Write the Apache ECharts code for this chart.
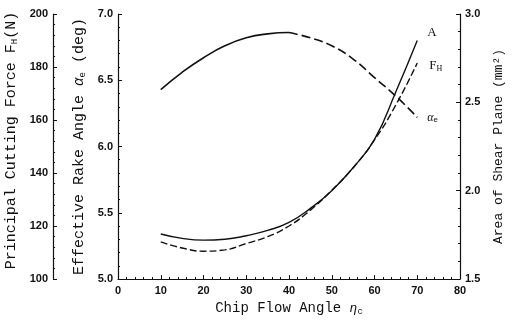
<!DOCTYPE html>
<html>
<head>
<meta charset="utf-8">
<script src="https://cdn.jsdelivr.net/npm/echarts@6/dist/echarts.min.js"></script>
<style>
  html, body { margin: 0; padding: 0; background: #fff; }
  #chart { width: 515px; height: 321px; }
</style>
</head>
<body>
<div id="chart"></div>
<script>
const chipFlowAngle = [10, 15, 20, 25, 30, 35, 40, 45, 50, 55, 60, 65, 70]
const rakeAngle = [6.43, 6.56, 6.67, 6.76, 6.82, 6.85, 6.86, 6.82, 6.76, 6.66, 6.52, 6.38, 6.22]
const shearArea = [1.755, 1.73, 1.72, 1.725, 1.745, 1.775, 1.82, 1.90, 2.00, 2.13, 2.29, 2.56, 2.85]
const cuttingForce = [114, 111.7, 110.5, 111, 113.4, 116, 120, 126, 133.5, 142, 152.5, 165.7, 181.5]
const xTicks = [0, 10, 20, 30, 40, 50, 60, 70, 80]

const pairs = (ys) => chipFlowAngle.map((x, i) => [x, ys[i]])
const rakePairs = pairs(rakeAngle)
// solid up to 40 deg, dashed afterwards
const rakeSolid = rakePairs.filter(p => p[0] <= 40)
const rakeDashed = rakePairs.filter(p => p[0] >= 40)

const ink = "#111"
const mono = "'Liberation Mono', 'DejaVu Sans Mono', monospace"
const tickFont = { color: ink, fontSize: 11, fontFamily: "'Liberation Sans', sans-serif", fontWeight: "bold" }
const sub = { fontSize: 9, verticalAlign: "bottom", padding: [6, 0, 0, 0], fontFamily: mono, color: ink }

const axisBase = {
  type: "value",
  axisLine: { show: true, lineStyle: { color: ink, width: 1.2 } },
  axisTick: { show: true, inside: true, length: 4, lineStyle: { color: ink } },
  minorTick: { show: true, splitNumber: 5, length: 2, lineStyle: { color: ink } },
  splitLine: { show: false },
  axisLabel: tickFont,
  nameLocation: "middle",
  nameRotate: 90
}

const chart = echarts.init(document.getElementById("chart"), null, { renderer: "canvas" })
const option = {
  animation: false,
  backgroundColor: "#fff",
  grid: { left: 118, right: 55, top: 14, bottom: 42, outerBoundsMode: "none", containLabel: false },
  xAxis: {
    ...axisBase,
    min: 0,
    max: 80,
    interval: 10,
    nameRotate: 0,
    name: "Chip Flow Angle {s|η}{b|c}",
    nameGap: 22,
    nameTextStyle: { fontFamily: mono, fontSize: 14, color: ink, rich: { s: { fontSize: 13, fontStyle: "italic", color: ink }, b: sub } },
    axisLabel: { ...tickFont, margin: 6, formatter: v => xTicks.includes(v) ? String(v) : "" }
  },
  yAxis: [
    {
      ...axisBase,
      position: "left",
      min: 5.0,
      max: 7.0,
      interval: 0.5,
      name: "Effective Rake Angle {s|α}{b|e} (deg)",
      nameGap: 23,
      nameTextStyle: { fontFamily: mono, fontSize: 15, color: ink, rich: { s: { fontSize: 14, fontStyle: "italic", color: ink }, b: sub } },
      axisLabel: { ...tickFont, margin: 5, formatter: v => v.toFixed(1) }
    },
    {
      ...axisBase,
      position: "left",
      offset: 65,
      min: 100,
      max: 200,
      interval: 20,
      name: "Principal Cutting Force F{b|H}(N)",
      nameGap: 27,
      nameTextStyle: { fontFamily: mono, fontSize: 15, color: ink, padding: [0, 0, 0, 12], rich: { b: sub } },
      axisLabel: { ...tickFont, margin: 5 }
    },
    {
      ...axisBase,
      position: "right",
      min: 1.5,
      max: 3.0,
      interval: 0.5,
      name: "Area of Shear Plane (mm²)",
      nameGap: 32,
      nameTextStyle: { fontFamily: mono, fontSize: 13, color: ink },
      axisLabel: { ...tickFont, margin: 5, formatter: v => v.toFixed(1) }
    }
  ],
  series: [
    {
      name: "αe",
      type: "line",
      yAxisIndex: 0,
      smooth: true,
      showSymbol: false,
      lineStyle: { color: ink, width: 1.6 },
      data: rakeSolid
    },
    {
      name: "αe dashed",
      type: "line",
      yAxisIndex: 0,
      smooth: true,
      showSymbol: false,
      lineStyle: { color: ink, width: 1.6, type: [9, 4] },
      endLabel: { show: true, formatter: "{s|α}{b|e}", distance: 10, rich: { s: { fontSize: 12, fontStyle: "italic", color: ink, fontFamily: "'Liberation Serif', serif" }, b: { fontSize: 8, verticalAlign: "bottom", padding: [5, 0, 0, 0], color: ink } } },
      data: rakeDashed
    },
    {
      name: "A",
      type: "line",
      yAxisIndex: 2,
      smooth: true,
      showSymbol: false,
      lineStyle: { color: ink, width: 1.4 },
      endLabel: { show: true, formatter: "A", distance: 10, offset: [0, -8], fontSize: 13, color: ink, fontFamily: "'Liberation Serif', serif" },
      data: pairs(shearArea)
    },
    {
      name: "Fu",
      type: "line",
      yAxisIndex: 1,
      smooth: true,
      showSymbol: false,
      lineStyle: { color: ink, width: 1.4, type: [7, 3] },
      endLabel: { show: true, formatter: "F{b|H}", distance: 12, offset: [0, 3], fontSize: 13, color: ink, fontFamily: "'Liberation Serif', serif", rich: { b: { fontSize: 8, verticalAlign: "bottom", padding: [5, 0, 0, 0], color: ink } } },
      data: pairs(cuttingForce)
    }
  ]
}
chart.setOption(option)
</script>
</body>
</html>
